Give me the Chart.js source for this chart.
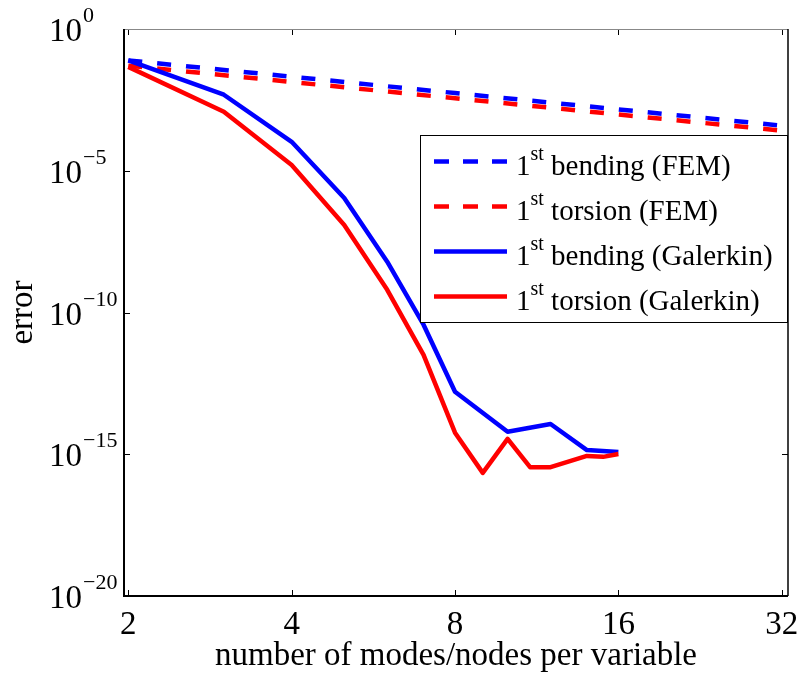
<!DOCTYPE html>
<html>
<head>
<meta charset="utf-8">
<script src="https://cdn.jsdelivr.net/npm/chart.js@4/dist/chart.umd.min.js"></script>
<style>
html, body { margin: 0; padding: 0; background: #fff; }
</style>
</head>
<body>
<canvas id="myChart" width="799" height="679"></canvas>
<script>
// values (log-log plot)
var femNodes = [2, 4, 8, 16, 32];
var bendingFem = [7.8e-2, 2.07e-2, 5.5e-3, 1.46e-3, 3.9e-4];
var torsionFem = [5.1e-2, 1.35e-2, 3.6e-3, 9.6e-4, 2.6e-4];

var bendingModes = [2, 3, 4, 5, 6, 7, 8, 10, 12, 14, 16];
var bendingGalerkin = [7.8e-2, 4.8e-3, 1.05e-4, 1.1e-6, 6.2e-9, 3.7e-11, 1.6e-13, 6.2e-15, 1.17e-14, 1.4e-15, 1.2e-15];

var torsionModes = [2, 3, 4, 5, 6, 7, 8, 9, 10, 11, 12, 14, 15, 16];
var torsionGalerkin = [4.6e-2, 1.2e-3, 1.6e-5, 1.23e-7, 6.3e-10, 3.2e-12, 5.75e-15, 2.2e-16, 3.5e-15, 3.5e-16, 3.5e-16, 8.7e-16, 8.1e-16, 1.02e-15];

var xTicks = [2, 4, 8, 16, 32];
var yTickExps = [0, -5, -10, -15, -20];

var legendNames = ['bending (FEM)', 'torsion (FEM)', 'bending (Galerkin)', 'torsion (Galerkin)'];

var FONT = "'Liberation Serif', 'Times New Roman', serif";
var LW = 4.5;

function pts(xs, ys) {
  return xs.map(function (x, i) { return { x: x, y: ys[i] }; });
}

function series(label, xs, ys, color, dashed, order) {
  return {
    label: label,
    data: pts(xs, ys),
    borderColor: color,
    backgroundColor: color,
    borderWidth: LW,
    borderDash: dashed ? [14, 15] : [],
    borderCapStyle: 'butt',
    borderJoinStyle: 'round',
    pointRadius: 0,
    showLine: true,
    tension: 0,
    order: order
  };
}

// frame, ticks, labels and legend in matlab style
var decor = {
  id: 'decor',
  afterDraw: function (chart) {
    var c = chart.ctx, a = chart.chartArea;
    var xs = chart.scales.x, ys = chart.scales.y;
    c.save();

    // ticks (inward, all four sides)
    c.strokeStyle = '#000';
    c.lineWidth = 1;
    c.beginPath();
    xTicks.forEach(function (t) {
      var px = Math.round(xs.getPixelForValue(t)) + 0.5;
      c.moveTo(px, a.bottom); c.lineTo(px, a.bottom - 6);
      c.moveTo(px, a.top); c.lineTo(px, a.top + 6);
    });
    yTickExps.forEach(function (e) {
      var py = Math.round(ys.getPixelForValue(Math.pow(10, e))) + 0.5;
      c.moveTo(a.left, py); c.lineTo(a.left + 6, py);
      c.moveTo(a.right, py); c.lineTo(a.right - 6, py);
    });
    c.stroke();

    // box
    c.strokeStyle = '#888';
    c.lineWidth = 1;
    c.beginPath();
    c.moveTo(a.left, a.top + 0.5); c.lineTo(a.right, a.top + 0.5);
    c.stroke();
    c.strokeStyle = '#000';
    c.lineWidth = 1.5;
    c.beginPath();
    c.moveTo(a.right, a.top); c.lineTo(a.right, a.bottom);
    c.stroke();
    c.lineWidth = 2;
    c.beginPath();
    c.moveTo(a.left, a.top); c.lineTo(a.left, a.bottom); c.lineTo(a.right, a.bottom);
    c.stroke();

    // tick labels
    c.fillStyle = '#000';
    c.textBaseline = 'alphabetic';
    c.font = '33px ' + FONT;
    c.textAlign = 'center';
    xTicks.forEach(function (t) {
      c.fillText(String(t), xs.getPixelForValue(t), 634);
    });
    yTickExps.forEach(function (e) {
      var py = ys.getPixelForValue(Math.pow(10, e));
      c.font = '33px ' + FONT;
      c.textAlign = 'right';
      c.fillText('10', 82, py + 12);
      c.font = '22px ' + FONT;
      c.textAlign = 'left';
      c.fillText(e === 0 ? '0' : '\u2212' + Math.abs(e), 83, py - 7);
    });

    // axis titles
    c.font = '33px ' + FONT;
    c.textAlign = 'center';
    c.fillText('number of modes/nodes per variable', (a.left + a.right) / 2, 665);
    c.save();
    c.translate(32, (a.top + a.bottom) / 2);
    c.rotate(-Math.PI / 2);
    c.fillText('error', 0, 0);
    c.restore();

    // legend
    var lx = 420.5, ly = 135.5, lw = 367, lh = 187;
    c.fillStyle = '#fff';
    c.fillRect(lx, ly, lw, lh);
    c.strokeStyle = '#000';
    c.lineWidth = 1;
    c.strokeRect(lx, ly, lw, lh);
    var sets = chart.data.datasets;
    legendNames.forEach(function (name, i) {
      var ds = sets[i];
      var base = 175 + i * 45;
      var ly2 = base - 13.5;
      c.strokeStyle = ds.borderColor;
      c.lineWidth = LW;
      c.lineCap = 'butt';
      c.setLineDash(ds.borderDash.length ? [15, 14] : []);
      c.beginPath();
      c.moveTo(434, ly2); c.lineTo(507, ly2);
      c.stroke();
      c.setLineDash([]);
      c.fillStyle = '#000';
      c.textAlign = 'left';
      c.font = '29px ' + FONT;
      c.fillText('1', 516, base);
      var w1 = c.measureText('1').width;
      c.font = '20px ' + FONT;
      c.fillText('st', 516 + w1, base - 15);
      var w2 = c.measureText('st').width;
      c.font = '29px ' + FONT;
      c.fillText(' ' + name, 516 + w1 + w2, base);
    });

    c.restore();
  }
};

var ctx = document.getElementById('myChart').getContext('2d');
var myChart = new Chart(ctx, {
  type: 'scatter',
  data: {
    datasets: [
      series('1st bending (FEM)', femNodes, bendingFem, '#0000ff', true, 4),
      series('1st torsion (FEM)', femNodes, torsionFem, '#ff0000', true, 3),
      series('1st bending (Galerkin)', bendingModes, bendingGalerkin, '#0000ff', false, 2),
      series('1st torsion (Galerkin)', torsionModes, torsionGalerkin, '#ff0000', false, 1)
    ]
  },
  options: {
    responsive: false,
    animation: false,
    devicePixelRatio: 1,
    layout: { padding: { top: 29, right: 11, left: 0, bottom: 0 } },
    plugins: {
      legend: { display: false },
      tooltip: { enabled: false }
    },
    scales: {
      x: {
        type: 'logarithmic',
        min: 1.964,
        max: 32.86,
        grid: { display: false, drawTicks: false },
        border: { display: false },
        ticks: { display: false },
        afterFit: function (s) { s.height = 83; }
      },
      y: {
        type: 'logarithmic',
        min: 1e-20,
        max: 1,
        grid: { display: false, drawTicks: false },
        border: { display: false },
        ticks: { display: false },
        afterFit: function (s) { s.width = 124; }
      }
    }
  },
  plugins: [decor]
});
</script>
</body>
</html>
